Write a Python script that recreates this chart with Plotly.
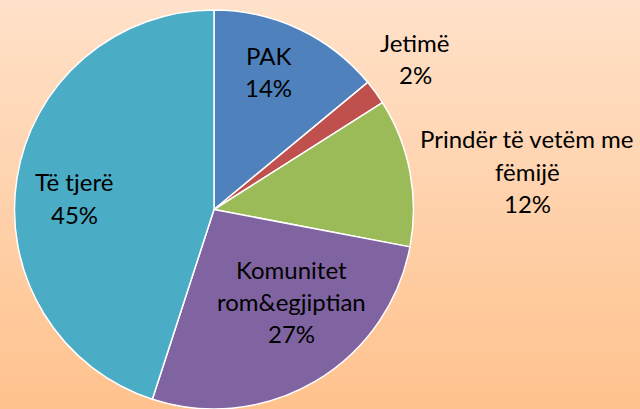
import plotly.graph_objects as go

labels = ["PAK", "Jetimë", "Prindër të vetëm me fëmijë", "Komunitet rom&egjiptian", "Të tjerë"]
values = [14, 2, 12, 27, 45]
label_lines = [["PAK"], ["Jetimë"], ["Prindër të vetëm me", "fëmijë"], ["Komunitet", "rom&egjiptian"], ["Të tjerë"]]
colors = ["#4F81BD", "#C0504D", "#9BBB59", "#8064A2", "#4BACC6"]

W, H = 640, 409
# label centre positions in pixels (x, y of first line)
label_pos = [(268, 55), (415, 42), (527, 139), (291, 269), (74, 182)]
line_h = 32

fig = go.Figure()
fig.add_trace(go.Pie(
    labels=labels, values=values, sort=False, direction="clockwise", rotation=0,
    marker=dict(colors=colors, line=dict(color="white", width=1.5)),
    textinfo="none", hoverinfo="label+percent", showlegend=False,
    domain=dict(x=[14 / W, 414 / W], y=[0, 1 - 10 / H]),
))

# gradient background
top = (255, 225, 201)
bot = (255, 194, 142)
n = 60
shapes = []
for i in range(n):
    t = i / (n - 1)
    c = tuple(round(top[k] + (bot[k] - top[k]) * t) for k in range(3))
    shapes.append(dict(type="rect", xref="paper", yref="paper", x0=0, x1=1,
                       y0=1 - (i + 1) / n - 0.002, y1=1 - i / n,
                       fillcolor="rgb(%d,%d,%d)" % c, line=dict(width=0), layer="below"))

total = sum(values)
annotations = []
for lines, v, (px, py) in zip(label_lines, values, label_pos):
    all_lines = lines + ["%d%%" % round(100 * v / total)]
    for j, s in enumerate(all_lines):
        annotations.append(dict(text=s, x=px / W, y=1 - (py + j * line_h) / H,
                                xref="paper", yref="paper", showarrow=False,
                                xanchor="center", yanchor="middle",
                                font=dict(family="Lato", size=24, color="black")))

fig.update_layout(width=W, height=H, margin=dict(l=0, r=0, t=0, b=0),
                  paper_bgcolor="rgb(255,210,170)", plot_bgcolor="rgba(0,0,0,0)",
                  shapes=shapes, annotations=annotations)
fig.write_html("out.html", config={"displayModeBar": False},
               post_script="document.body.style.margin='0';document.body.style.overflow='hidden';")
